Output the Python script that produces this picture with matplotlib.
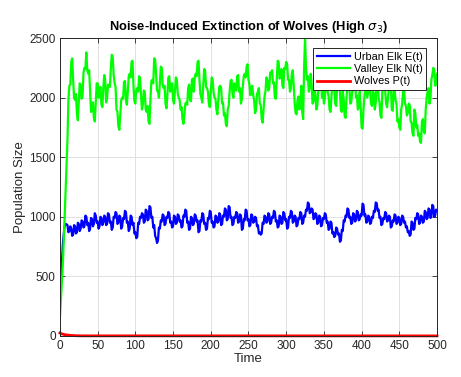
import numpy as np
import matplotlib
matplotlib.use("Agg")
import matplotlib.pyplot as plt

plt.rcParams["font.family"] = ["Liberation Sans", "DejaVu Sans"]
plt.rcParams["mathtext.fontset"] = "dejavusans"

# time grid: a few early points, then every 1.25 units
t_early = [0, 2, 4, 6, 8]
t_main = np.arange(10, 500.01, 1.25)
time = np.concatenate([t_early, t_main])

# Valley elk N(t)
valley_early = [150, 380, 620, 950, 1300]
valley_main = [
    1650, 1980, 2100, 2110, 2300, 2330, 2150, 2000, 1980, 2030, 1870, 1810, 1960, 2120, 2100, 1990, 2020, 2210, 2250, 2240,
    2380, 2230, 2200, 2230, 2050, 1880, 1900, 1960, 1830, 1800, 1960, 2120, 2120, 2000, 2050, 2090, 1940, 1920, 2080, 2190,
    2150, 1960, 1990, 2110, 2100, 2090, 2250, 2360, 2340, 2190, 2120, 2090, 1900, 1880, 1760, 1730, 1850, 1980, 2000, 1990,
    2130, 2140, 1980, 1940, 2050, 2180, 2200, 2170, 2300, 2310, 2100, 1970, 1950, 2070, 2080, 2050, 2180, 2160, 2020, 1900,
    1950, 2060, 2050, 1900, 1880, 1930, 1800, 1780, 1980, 2140, 2150, 2120, 2330, 2320, 2200, 2060, 2050, 2000, 2120, 2260,
    2250, 2110, 2080, 2100, 1950, 1910, 2020, 2170, 2180, 2050, 2100, 2120, 1980, 1950, 2060, 2170, 2150, 2030, 2000, 1980,
    1900, 1920, 1820, 1780, 1850, 1950, 1960, 1940, 2080, 2110, 1980, 1970, 2150, 2160, 2050, 2170, 2200, 2180, 2300, 2310,
    2150, 2030, 2000, 1960, 2100, 2240, 2230, 2090, 2080, 2050, 1950, 1920, 2050, 2170, 2150, 2040, 2000, 1990, 1900, 1860,
    1980, 2090, 2100, 2080, 1950, 1960, 1850, 1870, 1780, 1760, 1900, 1930, 2050, 2140, 2150, 2040, 2000, 2120, 2080, 2060,
    2180, 2190, 2050, 2080, 1950, 1990, 2100, 2180, 2200, 2170, 2260, 2280, 2150, 2110, 2020, 2080, 2100, 2020, 1980, 1870,
    1900, 2030, 2050, 2080, 1950, 1940, 1820, 1790, 1900, 2010, 2050, 2170, 2150, 2060, 2080, 2210, 2200, 2230, 2120, 2130,
    2000, 1990, 2150, 2310, 2300, 2160, 2180, 2240, 2100, 2080, 2250, 2240, 2300, 2280, 2150, 2150, 2050, 2080, 2200, 2230,
    2100, 1950, 1870, 1860, 1980, 2010, 1900, 1960, 2100, 1880, 1820, 2250, 2500, 2250, 2150, 2180, 2050, 2080, 2200, 2110,
    1950, 1970, 2100, 2030, 1900, 1930, 2050, 2150, 2180, 2140, 2000, 2060, 1950, 1990, 2120, 2130, 2050, 2010, 1900, 1880,
    2000, 2130, 2150, 2090, 1950, 1930, 2080, 2170, 2200, 2060, 1900, 1880, 2050, 1990, 1850, 1830, 2000, 2110, 2120, 2080,
    1950, 1960, 2050, 2060, 2180, 2170, 2000, 2020, 1900, 1920, 2050, 1920, 1750, 1740, 1900, 2010, 2080, 2100, 2000, 2050,
    2100, 2060, 1950, 1930, 2050, 2040, 1900, 1960, 2150, 2140, 2000, 1960, 1850, 1830, 2050, 2130, 2100, 2060, 1950, 1920,
    2000, 2090, 2150, 2100, 1900, 1890, 2050, 2080, 1980, 1950, 1800, 1820, 1750, 1730, 1900, 1950, 2050, 2070, 1950, 1930,
    1850, 1870, 1950, 1940, 1800, 1790, 1700, 1680, 1900, 1870, 1750, 1770, 1680, 1700, 1630, 1620, 1800, 1820, 1720, 1700,
    1900, 2000, 2050, 2080, 1950, 1990, 2150, 2190, 2250, 2230, 2100, 2110, 2200,
]

# Urban elk E(t)
urban_early = [300, 550, 780, 920, 940]
urban_main = [
    930, 870, 880, 920, 900, 840, 850, 930, 920, 860, 870, 950, 940, 880, 900, 970, 960, 910, 920, 1010,
    1000, 930, 950, 880, 900, 990, 980, 920, 940, 1030, 1010, 950, 960, 900, 920, 1000, 990, 930, 950, 1010,
    1000, 930, 940, 1030, 1020, 950, 960, 890, 910, 1000, 990, 1040, 1030, 940, 950, 1010, 1000, 900, 920, 990,
    980, 1050, 1040, 950, 960, 880, 900, 1010, 1000, 930, 950, 860, 870, 820, 830, 950, 940, 1000, 990, 1030,
    1020, 950, 960, 1060, 1050, 970, 980, 1090, 1080, 990, 1000, 910, 930, 840, 820, 780, 800, 910, 900, 970,
    960, 1020, 1010, 930, 940, 1000, 990, 1040, 1030, 950, 960, 910, 920, 1010, 1000, 940, 950, 1020, 1010, 960,
    970, 910, 920, 1010, 1000, 1060, 1050, 950, 960, 890, 900, 1000, 990, 930, 940, 1020, 1010, 960, 970, 870,
    880, 970, 960, 1030, 1020, 940, 950, 890, 900, 990, 980, 1050, 1040, 950, 960, 910, 920, 1010, 1000, 950,
    960, 1030, 1020, 930, 940, 1010, 1000, 1070, 1060, 970, 980, 1090, 1080, 990, 1000, 930, 940, 1000, 990, 1040,
    1030, 950, 960, 1020, 1010, 890, 900, 980, 970, 1060, 1050, 970, 980, 920, 930, 1020, 1010, 950, 960, 1000,
    990, 920, 930, 860, 870, 850, 860, 950, 940, 1010, 1000, 950, 960, 1030, 1020, 940, 950, 1000, 990, 1050,
    1040, 960, 970, 910, 920, 1010, 1000, 940, 950, 1040, 1030, 970, 980, 900, 910, 1000, 990, 1050, 1040, 950,
    960, 1010, 1000, 920, 930, 990, 980, 1040, 1030, 940, 950, 1010, 1000, 1060, 1050, 1120, 1110, 1030, 1040, 1070,
    1060, 980, 990, 1030, 1020, 940, 950, 1010, 1000, 920, 930, 990, 980, 1030, 1020, 950, 960, 890, 900, 960,
    950, 860, 870, 830, 840, 910, 900, 850, 860, 790, 800, 890, 880, 970, 960, 1010, 1000, 1070, 1060, 990,
    1000, 940, 950, 1030, 1020, 960, 970, 1050, 1040, 970, 980, 1020, 1010, 1110, 1100, 1010, 1020, 950, 960, 1010,
    1000, 940, 950, 1000, 990, 1050, 1040, 1120, 1115, 1050, 1060, 990, 1000, 930, 940, 990, 980, 1040, 1030, 960,
    970, 1010, 1000, 910, 920, 970, 960, 1020, 1010, 940, 950, 1000, 990, 930, 940, 1010, 1000, 950, 960, 910,
    920, 870, 880, 840, 850, 960, 950, 890, 900, 990, 980, 1030, 1020, 940, 950, 1010, 1000, 950, 960, 1050,
    1040, 980, 990, 1070, 1060, 990, 1000, 1100, 1090, 1000, 1010, 1060, 1050,
]

# Wolves P(t)
t_wolves = [0, 2, 4, 6, 8, 10, 15, 20, 25, 30, 500]
wolves = [25, 18, 14, 11, 9, 7, 4, 2, 1, 0.5, 0]

urban = urban_early + urban_main
valley = valley_early + valley_main
assert len(urban) == len(time) and len(valley) == len(time), (len(time), len(urban), len(valley))

fig = plt.figure(figsize=(4.61, 3.77), dpi=100)
ax = fig.add_axes([0.130, 0.109, 0.818, 0.790])

ax.plot(time, urban, color=(0, 0, 1), linewidth=1.6, label="Urban Elk E(t)")
ax.plot(time, valley, color=(0, 1, 0), linewidth=1.6, label="Valley Elk N(t)")
ax.plot(t_wolves, wolves, color=(1, 0, 0), linewidth=2, label="Wolves P(t)", clip_on=False)

ax.set_xlim(0, 500)
ax.set_ylim(0, 2500)
ax.set_xticks(np.arange(0, 501, 50))
ax.set_yticks(np.arange(0, 2501, 500))
ax.grid(True, color="#dcdcdc", linewidth=0.6)
ax.set_axisbelow(True)
ax.tick_params(direction="in", length=3.5, width=0.6, top=True, right=True,
               labelsize=8.5, colors="#262626", pad=3)
for s in ax.spines.values():
    s.set_color("#262626")
    s.set_linewidth(0.7)

ax.set_title(r"Noise-Induced Extinction of Wolves (High $\sigma_3$)",
             fontsize=9.3, fontweight="bold", color="#000000", pad=6)
ax.set_xlabel("Time", fontsize=9.5, color="#262626", labelpad=1)
ax.set_ylabel("Population Size", fontsize=9.5, color="#262626", labelpad=2)

leg = ax.legend(loc="upper right", fontsize=7.8, fancybox=False, framealpha=1,
                edgecolor="#262626", handlelength=3.0, borderpad=0.35,
                labelspacing=0.2, handletextpad=0.4, borderaxespad=0,
                bbox_to_anchor=(0.972, 0.966))
leg.get_frame().set_linewidth(0.7)

fig.savefig("out.png", dpi=100)
plt.close(fig)
